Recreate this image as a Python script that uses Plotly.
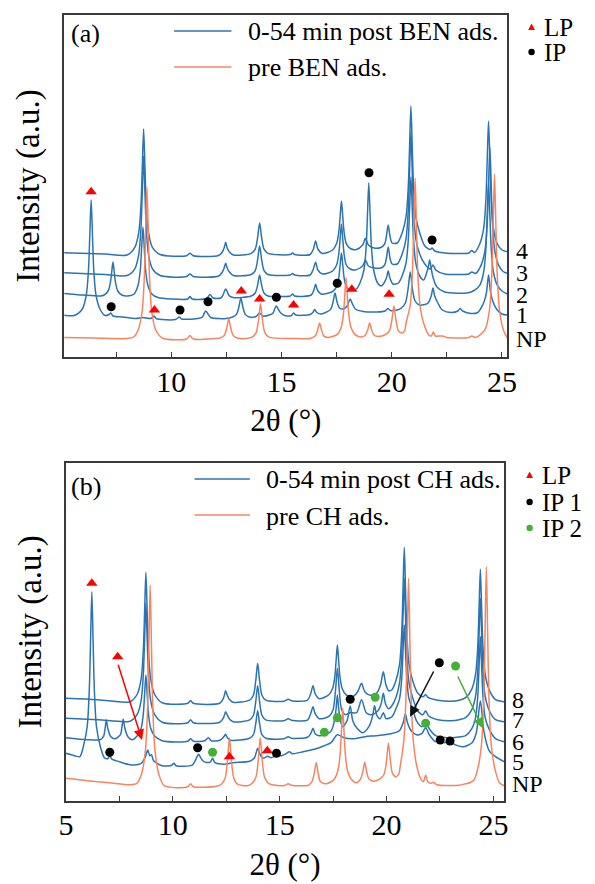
import plotly.graph_objects as go

W, H = 595, 884
SERIF = "Liberation Serif"
BLUE = "#2b74b3"
ORANGE = "#f8845f"
RED = "#ff0000"
GREEN = "#45b035"
FRAME = "#3a3a3a"

# ---------------- panel (a): benzene ----------------
a_np = [(5.10, 19.5), (6.50, 19.0), (8.00, 18.5), (8.30, 20.0), (8.50, 27), (8.68, 45), (8.78, 79), (8.84, 124),
        (8.90, 170), (8.96, 124), (9.02, 79), (9.12, 45), (9.30, 27), (9.60, 19), (10.70, 18), (10.85, 21.5),
        (11.00, 18), (12.00, 18.5), (12.23, 19), (12.41, 21.6), (12.52, 29), (12.61, 38), (12.70, 29),
        (12.81, 21.6), (12.99, 19), (13.40, 18.5), (13.67, 19.8), (13.85, 24.3), (13.96, 37), (14.05, 53),
        (14.14, 37), (14.25, 24.3), (14.43, 19.8), (15.50, 18.5), (16.35, 18.8), (16.53, 20.9), (16.64, 26.8),
        (16.73, 34), (16.82, 26.8), (16.93, 20.9), (17.10, 19.5), (17.53, 22.6), (17.71, 29.8), (17.81, 43),
        (17.87, 61), (17.93, 79), (17.99, 61), (18.05, 43), (18.15, 29.8), (18.33, 22.6), (18.60, 20),
        (18.80, 21.7), (18.91, 27), (19.00, 34), (19.09, 27), (19.20, 21.7), (19.40, 20.5), (19.72, 22.5),
        (19.90, 26.4), (20.01, 37.5), (20.10, 51), (20.19, 37.5), (20.30, 26.4), (20.45, 24), (20.58, 26),
        (20.66, 35), (20.84, 52), (20.94, 86), (21.00, 132), (21.06, 179), (21.12, 132), (21.18, 86),
        (21.28, 52), (21.46, 33), (21.68, 22), (21.80, 21), (21.89, 25), (21.98, 21), (22.30, 21),
        (22.50, 19.5), (23.50, 19.5), (23.63, 21), (23.80, 19.5), (24.10, 24), (24.26, 28.8), (24.44, 48.5),
        (24.54, 85), (24.60, 134), (24.66, 183), (24.72, 134), (24.78, 85), (24.88, 48.5), (25.06, 27),
        (25.24, 19)]

a_1 = [(5.10, 42), (5.60, 41.5), (5.97, 48), (6.15, 62), (6.25, 87), (6.31, 122), (6.37, 157), (6.43, 122),
       (6.49, 87), (6.59, 62), (6.77, 48), (7.00, 41.5), (7.18, 42.5), (7.26, 44), (7.36, 41), (7.80, 40),
       (8.40, 38.5), (8.70, 39.5), (9.00, 38.5), (9.14, 39), (9.22, 41), (9.32, 38.5), (10.20, 37.5),
       (10.37, 40), (10.47, 38), (11.20, 38.5), (11.42, 40), (11.50, 44), (11.57, 46), (11.64, 44),
       (11.80, 39.5), (12.50, 38.5), (12.78, 40), (12.96, 42.6), (13.07, 50), (13.16, 59), (13.25, 50),
       (13.36, 42.6), (13.54, 40), (13.85, 40.5), (14.00, 44), (14.15, 41), (14.45, 42), (14.62, 44),
       (14.70, 48.5), (14.77, 51), (14.85, 48), (14.97, 44), (15.15, 41.5), (15.45, 41.5), (15.55, 44),
       (15.65, 42), (16.30, 42.5), (16.42, 44.5), (16.51, 47.5), (16.60, 44.5), (16.80, 43), (17.05, 45),
       (17.23, 47.6), (17.34, 55), (17.43, 64), (17.52, 55), (17.63, 49), (17.80, 48), (17.98, 51),
       (18.05, 55), (18.12, 58), (18.20, 54), (18.35, 48), (18.70, 45.5), (19.30, 45), (19.70, 46),
       (19.82, 48.5), (19.95, 46.5), (20.25, 47), (20.44, 49), (20.62, 54), (20.74, 68), (20.84, 85),
       (20.94, 68), (21.06, 56), (21.25, 52), (21.50, 52.5), (21.65, 54), (21.79, 61), (21.87, 69),
       (21.95, 61), (22.09, 54), (22.30, 47), (22.70, 44.5), (23.00, 46), (23.10, 48.5), (23.22, 46),
       (23.60, 43.5), (23.90, 44.5), (24.05, 49), (24.20, 56), (24.30, 65), (24.39, 82), (24.48, 65),
       (24.58, 56), (24.75, 48), (25.00, 43), (25.24, 42)]

a_2 = [(5.10, 63.7), (6.00, 62), (6.80, 61), (6.96, 62), (7.14, 66), (7.24, 74), (7.30, 84.5), (7.36, 95),
       (7.42, 84.5), (7.48, 74), (7.58, 66), (7.76, 62), (8.00, 61), (8.32, 63), (8.50, 72), (8.60, 87),
       (8.66, 109), (8.72, 130), (8.78, 109), (8.84, 87), (8.94, 72), (9.12, 63), (9.40, 59.5), (10.00, 58),
       (10.75, 58), (10.85, 60.5), (10.95, 58), (11.60, 58.5), (11.76, 62.5), (11.90, 59), (12.25, 59),
       (12.35, 62), (12.42, 66), (12.47, 68), (12.53, 66), (12.62, 61.5), (12.80, 59.5),
       (13.63, 61), (13.81, 64), (13.92, 72), (14.01, 82), (14.10, 72), (14.21, 64), (14.39, 61),
       (15.00, 60.5), (15.40, 61), (15.50, 63), (15.60, 61), (16.35, 62), (16.47, 67), (16.55, 72.7),
       (16.63, 67), (16.80, 63), (17.32, 65.5), (17.50, 70.4), (17.60, 79.4), (17.66, 92), (17.72, 104),
       (17.78, 92), (17.84, 79.4), (17.94, 70.4), (18.10, 67), (18.40, 68), (18.56, 74), (18.74, 87),
       (18.84, 110), (18.90, 142), (18.96, 174), (19.02, 142), (19.08, 110), (19.18, 87), (19.36, 74),
       (19.52, 71), (19.62, 73), (19.76, 79), (19.84, 86), (19.92, 79), (20.06, 73), (20.30, 74),
       (20.47, 81), (20.65, 94), (20.75, 117), (20.81, 148.5), (20.87, 180), (20.93, 148.5), (20.99, 117),
       (21.09, 94), (21.27, 81), (21.45, 77), (21.58, 84), (21.66, 90), (21.72, 97), (21.78, 90),
       (21.87, 80), (22.05, 70), (22.40, 65), (22.80, 64), (23.40, 64), (23.70, 66), (23.99, 71.6),
       (24.17, 85), (24.27, 109), (24.33, 142), (24.39, 175), (24.45, 142), (24.51, 109), (24.61, 85),
       (24.79, 71.6), (25.00, 66), (25.24, 63)]

a_3 = [(5.10, 84.3), (7.00, 82.5), (8.00, 81.5), (8.35, 88.2), (8.53, 102.6), (8.63, 129), (8.69, 165),
       (8.75, 201), (8.81, 165), (8.87, 129), (8.97, 102.6), (9.15, 88.2), (9.50, 81.5), (10.70, 80.5),
       (10.85, 83), (11.00, 80.5), (12.15, 81), (12.32, 85), (12.40, 89), (12.47, 93.7), (12.54, 89),
       (12.64, 85), (12.82, 81.5), (13.63, 82.5), (13.81, 86.4), (13.92, 97.5), (14.01, 111), (14.10, 97.5),
       (14.21, 86.4), (14.39, 82.5), (15.20, 81.5), (15.40, 82), (15.50, 83.5), (15.60, 82), (16.30, 82),
       (16.43, 87), (16.55, 94.7), (16.65, 87), (16.85, 83), (17.32, 86), (17.50, 92), (17.60, 103),
       (17.66, 118), (17.72, 133), (17.78, 118), (17.84, 103), (17.94, 92), (18.12, 88), (18.35, 87),
       (18.68, 91), (18.81, 97), (18.94, 91), (19.20, 89), (19.50, 89), (19.68, 92), (19.76, 99),
       (19.84, 110), (19.92, 99), (20.02, 93), (20.25, 93), (20.47, 102.8), (20.65, 118.4), (20.75, 147),
       (20.81, 186), (20.87, 225), (20.93, 186), (20.99, 147), (21.09, 118.4), (21.27, 102.8), (21.50, 93),
       (21.75, 88), (21.87, 92), (22.00, 87), (22.40, 83), (23.00, 82.5), (23.50, 83), (23.63, 85),
       (23.80, 83.5), (24.05, 91.6), (24.23, 106.7), (24.33, 134), (24.39, 172), (24.45, 210),
       (24.51, 172), (24.57, 134), (24.67, 106.7), (24.85, 91.6), (25.05, 85.5), (25.24, 83.7)]

a_4 = [(5.10, 104.3), (7.00, 103), (8.00, 102), (8.35, 109.6), (8.53, 124.7), (8.63, 152), (8.69, 190),
       (8.75, 228), (8.81, 190), (8.87, 152), (8.97, 124.7), (9.15, 109.6), (9.50, 102.5), (10.70, 101.3),
       (10.85, 103.7), (11.00, 101.3), (12.15, 101.5), (12.32, 105), (12.40, 109), (12.47, 114.7),
       (12.54, 109), (12.64, 105), (12.82, 102), (13.63, 103.6), (13.81, 107.8), (13.92, 119.6),
       (14.01, 134), (14.10, 119.6), (14.21, 107.8), (14.39, 103.6), (15.40, 102.5), (15.50, 104),
       (15.60, 102.5), (16.30, 102.5), (16.45, 108), (16.55, 116), (16.65, 108), (16.85, 103.5),
       (17.32, 107), (17.50, 113.4), (17.60, 124.8), (17.66, 140.4), (17.72, 156), (17.78, 140.4),
       (17.84, 124.8), (17.94, 113.4), (18.12, 108.5), (18.40, 107.5), (18.68, 112), (18.81, 118.7),
       (18.94, 112), (19.20, 109), (19.50, 109.5), (19.68, 113), (19.76, 121), (19.84, 132), (19.92, 121),
       (20.02, 114), (20.25, 114), (20.47, 124), (20.65, 140.3), (20.75, 170), (20.81, 210.5), (20.87, 251),
       (20.93, 210.5), (20.99, 170), (21.09, 140.3), (21.27, 124), (21.50, 111), (21.75, 107.5),
       (21.83, 109), (21.95, 106), (22.40, 104), (23.00, 103.5), (23.50, 104), (23.63, 106.5),
       (23.75, 104.5), (23.99, 113), (24.17, 128.6), (24.27, 157.4), (24.33, 197), (24.39, 236),
       (24.45, 197), (24.51, 157.4), (24.61, 128.6), (24.79, 113), (25.00, 107), (25.24, 105.3)]

a_lp_x = [6.37, 9.24, 13.18, 14.01, 15.55, 18.19, 19.88]
a_lp_y = [165.3, 47, 66, 58, 52, 67.7, 62.7]
a_ip_x = [7.28, 10.40, 11.67, 14.77, 17.53, 18.97, 21.83]
a_ip_y = [50.3, 47, 55.3, 59.7, 73.7, 184.3, 117]

# ---------------- panel (b): cyclohexane ----------------
b_np = [(5.00, 22.5), (6.00, 20), (7.00, 18), (8.00, 16), (8.30, 17), (8.54, 27), (8.72, 51), (8.82, 95),
        (8.88, 156), (8.94, 215.7), (9.00, 156), (9.06, 95), (9.16, 51), (9.34, 27), (9.60, 15),
        (10.70, 14), (10.83, 17), (10.96, 14), (12.05, 14.5), (12.27, 16.5), (12.45, 22.8), (12.56, 41),
        (12.65, 63), (12.74, 41), (12.85, 22.8), (13.03, 16.5), (13.50, 15), (13.71, 17.4), (13.89, 23.6),
        (14.00, 41.4), (14.09, 63), (14.18, 41.4), (14.29, 23.6), (14.47, 17.4), (15.20, 15), (15.40, 17),
        (15.55, 15.5), (16.35, 15.5), (16.51, 19), (16.62, 27.7), (16.71, 38), (16.80, 27.7), (16.91, 19),
        (17.20, 17), (17.55, 21.5), (17.73, 30.5), (17.83, 47), (17.89, 69.5), (17.95, 92.4), (18.01, 69.5),
        (18.07, 47), (18.17, 30.5), (18.35, 21.5), (18.60, 18), (18.78, 21.6), (18.89, 29), (18.98, 38.4),
        (19.07, 29), (19.18, 21.6), (19.40, 19.5), (19.71, 22), (19.89, 26.7), (20.00, 40), (20.09, 57.4),
        (20.18, 40), (20.29, 26.7), (20.45, 24), (20.58, 27), (20.63, 33), (20.81, 60.5), (20.91, 104),
        (20.97, 163), (21.03, 222.4), (21.09, 163), (21.15, 104), (21.25, 60.5), (21.43, 33), (21.62, 21),
        (21.73, 19), (21.83, 25.7), (21.93, 19), (22.10, 17.5), (22.20, 18.5), (22.35, 16), (23.40, 15.5),
        (23.70, 17), (23.90, 18), (24.10, 21), (24.27, 32), (24.45, 57.7), (24.55, 105), (24.61, 169),
        (24.67, 234), (24.73, 169), (24.79, 105), (24.89, 57.7), (25.07, 32), (25.28, 18), (25.50, 15)]

b_5 = [(5.00, 47.4), (5.40, 45), (5.65, 44), (5.81, 54), (5.99, 73.7), (6.09, 110), (6.15, 159.5),
       (6.21, 209), (6.27, 159.5), (6.33, 110), (6.43, 73.7), (6.61, 54), (6.80, 43), (6.95, 42),
       (7.05, 45), (7.15, 41.5), (7.50, 39), (8.00, 36), (8.50, 37), (8.70, 43), (8.83, 50.7), (8.92, 45),
       (9.00, 46), (9.10, 40), (9.50, 35), (9.95, 35.5), (10.05, 37.5), (10.15, 35), (10.90, 35.5),
       (11.05, 40), (11.13, 44), (11.21, 46.4), (11.30, 43), (11.45, 39), (11.75, 38.5), (11.86, 42.4),
       (11.97, 38), (12.40, 36.5), (12.80, 38), (13.60, 39.5), (13.82, 43), (13.90, 48), (13.97, 52.4),
       (14.05, 48), (14.18, 43), (14.30, 43), (14.42, 44.5), (14.60, 43), (14.85, 45), (15.10, 45),
       (15.30, 47), (15.45, 49), (15.60, 47), (16.10, 49), (16.70, 52), (17.09, 55), (17.40, 58),
       (17.70, 66), (18.00, 63), (18.50, 62), (19.00, 64), (19.50, 65), (20.20, 67), (20.60, 70),
       (20.78, 78), (20.88, 87), (20.98, 78), (21.15, 70), (21.40, 66), (21.65, 67), (21.83, 73),
       (22.00, 66), (22.30, 59), (22.51, 62), (22.70, 58), (22.97, 60), (23.20, 56), (23.60, 54),
       (24.00, 58), (24.20, 68), (24.39, 100), (24.55, 70), (24.80, 50), (25.10, 44), (25.50, 39)]

b_6 = [(5.00, 63), (6.00, 61), (6.60, 61), (6.75, 64), (6.83, 72), (6.89, 80.7), (6.96, 72), (7.10, 64),
       (7.30, 62), (7.55, 66), (7.62, 74), (7.68, 81.4), (7.75, 73), (7.90, 64), (8.10, 61), (8.34, 65),
       (8.52, 72.7), (8.62, 87), (8.68, 106.5), (8.74, 125.7), (8.80, 106.5), (8.86, 87), (8.96, 72.7),
       (9.14, 65), (9.50, 60), (10.70, 59.5), (10.83, 62), (10.96, 59.5), (11.50, 60), (11.66, 63),
       (11.80, 60), (12.20, 60.5), (12.35, 63), (12.42, 65), (12.47, 66.4), (12.55, 63), (12.70, 60.5),
       (13.59, 62.5), (13.77, 66), (13.88, 77), (13.97, 90), (14.06, 77), (14.17, 66), (14.35, 62.5),
       (15.20, 62), (15.40, 64), (15.55, 62.5), (16.30, 63.5), (16.45, 67), (16.56, 72.4), (16.66, 67),
       (16.85, 65), (17.25, 67), (17.42, 70), (17.56, 80), (17.64, 92), (17.70, 105.7), (17.76, 92),
       (17.84, 80), (17.95, 74), (18.15, 80), (18.30, 94.7), (18.42, 80), (18.60, 73), (18.90, 68),
       (19.20, 75), (19.35, 85), (19.44, 95), (19.55, 85), (19.70, 82), (19.85, 88), (19.98, 82),
       (20.25, 84), (20.43, 91.4), (20.61, 102), (20.71, 122), (20.77, 149), (20.83, 175.7), (20.89, 149),
       (20.95, 122), (21.05, 102), (21.23, 91.4), (21.40, 80), (21.65, 74), (21.83, 79), (22.00, 72),
       (22.30, 65), (22.80, 63), (23.30, 63.5), (23.70, 65), (23.99, 72), (24.17, 83.6), (24.27, 105),
       (24.33, 134.6), (24.39, 164), (24.45, 134.6), (24.51, 105), (24.61, 83.6), (24.79, 72), (25.10, 62),
       (25.50, 59)]

b_7 = [(5.00, 82.4), (6.50, 81), (8.00, 79.5), (8.34, 86.5), (8.52, 100.5), (8.62, 126.5), (8.68, 162),
       (8.74, 197.4), (8.80, 162), (8.86, 126.5), (8.96, 100.5), (9.14, 86.5), (9.50, 78.5), (10.70, 78),
       (10.83, 81), (10.96, 78), (12.20, 78.5), (12.35, 82), (12.42, 86), (12.47, 89), (12.54, 86),
       (12.64, 82), (12.82, 79), (13.59, 80.8), (13.77, 85.5), (13.88, 99), (13.97, 115), (14.06, 99),
       (14.17, 85.5), (14.35, 80.8), (15.20, 80), (15.40, 82), (15.55, 80.5), (16.30, 80.5), (16.45, 87),
       (16.56, 94), (16.66, 87), (16.85, 82), (17.32, 84.5), (17.50, 91), (17.61, 109.7), (17.70, 132.4),
       (17.79, 109.7), (17.90, 91), (18.08, 86), (18.30, 88), (18.60, 88), (18.83, 101), (19.05, 88),
       (19.30, 86), (19.60, 90), (19.75, 97), (19.85, 107.4), (19.95, 97), (20.10, 92), (20.25, 95),
       (20.43, 102.6), (20.61, 118), (20.71, 146), (20.77, 184), (20.83, 222.4), (20.89, 184), (20.95, 146),
       (21.05, 118), (21.23, 102.6), (21.45, 90), (21.70, 86), (21.83, 90), (21.96, 85), (22.40, 81),
       (23.00, 80), (23.40, 81), (23.70, 83), (23.99, 91), (24.17, 105), (24.27, 131), (24.33, 166.6),
       (24.39, 202.4), (24.45, 166.6), (24.51, 131), (24.61, 105), (24.79, 91), (25.10, 81), (25.50, 79)]

b_8 = [(5.00, 102.4), (6.50, 101), (8.00, 99), (8.34, 106.7), (8.52, 122), (8.62, 150.6), (8.68, 189),
       (8.74, 228.4), (8.80, 189), (8.86, 150.6), (8.96, 122), (9.14, 106.7), (9.50, 98), (10.70, 97.4),
       (10.83, 100), (10.96, 97.4), (12.20, 97.5), (12.35, 101.5), (12.42, 106), (12.47, 110), (12.54, 106),
       (12.64, 101.5), (12.82, 98.5), (13.59, 100.5), (13.77, 105.5), (13.88, 120), (13.97, 137.4),
       (14.06, 120), (14.17, 105.5), (14.35, 100.5), (15.20, 99.5), (15.40, 101.5), (15.55, 100),
       (16.30, 100.5), (16.45, 107), (16.56, 115), (16.66, 107), (16.85, 102), (17.30, 106), (17.48, 112.5),
       (17.58, 124), (17.64, 140), (17.70, 155.7), (17.76, 140), (17.82, 124), (17.92, 112.5), (18.10, 106),
       (18.40, 104), (18.65, 109), (18.83, 117.4), (18.98, 109), (19.25, 105.5), (19.55, 108), (19.72, 116),
       (19.85, 129), (19.97, 116), (20.10, 110), (20.25, 111), (20.43, 119.5), (20.61, 136.6), (20.71, 168),
       (20.77, 210.4), (20.83, 253.4), (20.89, 210.4), (20.95, 168), (21.05, 136.6), (21.23, 119.5),
       (21.45, 108), (21.70, 104), (21.83, 106), (21.96, 103), (22.40, 100.5), (23.00, 99.5), (23.40, 100.5),
       (23.70, 103), (23.99, 111.6), (24.17, 127), (24.27, 155), (24.33, 193), (24.39, 231.4), (24.45, 193),
       (24.51, 155), (24.61, 127), (24.79, 111.6), (25.10, 101), (25.50, 99)]

b_lp_x = [6.21, 7.42, 12.65, 14.42]
b_lp_y = [217.4, 144, 44, 50]
b_ip1_x = [7.05, 11.16, 14.85, 18.30, 22.47, 22.51, 22.97]
b_ip1_y = [48.4, 53, 47.4, 101.4, 138, 60.7, 59.7]
b_ip2_x = [11.86, 17.09, 17.70, 19.47, 21.83, 23.23]
b_ip2_y = [48.4, 68.4, 83, 103.4, 77.4, 134.7]

# peak-shift arrows in panel (b): (tail x, tail y, head x, head y, colour)
b_arrows = [(7.42, 137.4, 8.56, 60.7, RED),
            (22.24, 130.7, 21.10, 84.0, "#111111"),
            (23.30, 125.7, 24.51, 72.4, GREEN)]

a_labels = [("4", 106), ("3", 84), ("2", 62), ("1", 42.5), ("NP", 18)]
b_labels = [("8", 100.7), ("7", 80.7), ("6", 58.7), ("5", 38.7), ("NP", 16.7)]


def px(x):
    return x / W


def py(y):
    return 1 - y / H


fig = go.Figure()


def add_curves(series, xa, ya):
    for pts, color in series:
        fig.add_trace(go.Scatter(x=[p[0] for p in pts], y=[p[1] for p in pts], mode="lines",
                                 line=dict(color=color, width=1.5, shape="spline", smoothing=0.8),
                                 xaxis=xa, yaxis=ya, showlegend=False, hoverinfo="skip"))


def add_markers(xs, ys, symbol, color, size, xa, ya):
    fig.add_trace(go.Scatter(x=xs, y=ys, mode="markers",
                             marker=dict(symbol=symbol, color=color, size=size, line=dict(width=0)),
                             xaxis=xa, yaxis=ya, showlegend=False, hoverinfo="skip"))


add_curves([(a_1, BLUE), (a_2, BLUE), (a_3, BLUE), (a_4, BLUE), (a_np, ORANGE)], "x", "y")
add_markers(a_lp_x, a_lp_y, "triangle-up", RED, 10, "x", "y")
add_markers(a_ip_x, a_ip_y, "circle", "black", 9, "x", "y")

add_curves([(b_5, BLUE), (b_6, BLUE), (b_7, BLUE), (b_8, BLUE), (b_np, ORANGE)], "x2", "y2")
add_markers(b_lp_x, b_lp_y, "triangle-up", RED, 10, "x2", "y2")
add_markers(b_ip1_x, b_ip1_y, "circle", "black", 9, "x2", "y2")
add_markers(b_ip2_x, b_ip2_y, "circle", GREEN, 9, "x2", "y2")

annotations = []
shapes = []

for tx, ty, hx, hy, col in b_arrows:
    annotations.append(dict(x=hx, y=hy, ax=tx, ay=ty, xref="x2", yref="y2", axref="x2", ayref="y2",
                            text="", showarrow=True, arrowhead=2, arrowsize=1.4, arrowwidth=1.5,
                            arrowcolor=col))

label_font = dict(family=SERIF, size=24, color="black")
for txt, yv in a_labels:
    annotations.append(dict(x=px(522), y=yv, xref="paper", yref="y", text=txt, showarrow=False,
                            xanchor="left", yanchor="middle", font=label_font))
for txt, yv in b_labels:
    annotations.append(dict(x=px(518), y=yv, xref="paper", yref="y2", text=txt, showarrow=False,
                            xanchor="left", yanchor="middle", font=label_font))

tag_font = dict(family=SERIF, size=26, color="black")
annotations.append(dict(x=px(64), y=py(34), xref="paper", yref="paper", text="(a)", showarrow=False,
                        xanchor="left", yanchor="middle", font=tag_font))
annotations.append(dict(x=px(64), y=py(486), xref="paper", yref="paper", text="(b)", showarrow=False,
                        xanchor="left", yanchor="middle", font=tag_font))

# line legends inside each panel
line_legends = [
    (172, 231, 31, 246, "0-54 min post BEN ads.", BLUE),
    (172, 231, 67, 246, "pre BEN ads.", ORANGE),
    (193, 250, 479, 265, "0-54 min post CH ads.", BLUE),
    (193, 250, 515, 265, "pre CH ads.", ORANGE),
]
for x0, x1, yy, xt, txt, col in line_legends:
    shapes.append(dict(type="line", xref="paper", yref="paper", x0=px(x0), x1=px(x1), y0=py(yy), y1=py(yy),
                       line=dict(color=col, width=1.5)))
    annotations.append(dict(x=px(xt), y=py(yy + 1), xref="paper", yref="paper", text=txt, showarrow=False,
                            xanchor="left", yanchor="middle", font=tag_font))

# marker legends outside each panel
marker_legends = [
    (540, 27, "tri", RED, "LP"),
    (540, 52, "dot", "black", "IP"),
    (538, 475, "tri", RED, "LP"),
    (538, 502, "dot", "black", "IP 1"),
    (538, 528, "dot", GREEN, "IP 2"),
]
for cx, cy, kind, col, txt in marker_legends:
    if kind == "tri":
        path = "M {:.5f},{:.5f} L {:.5f},{:.5f} L {:.5f},{:.5f} Z".format(
            px(cx - 3.5), py(cy + 3), px(cx + 3.5), py(cy + 3), px(cx), py(cy - 3.5))
        shapes.append(dict(type="path", xref="paper", yref="paper", path=path, fillcolor=col,
                           line=dict(width=0)))
    else:
        shapes.append(dict(type="circle", xref="paper", yref="paper", x0=px(cx - 3.3), x1=px(cx + 3.3),
                           y0=py(cy + 3.3), y1=py(cy - 3.3), fillcolor=col, line=dict(width=0)))
    annotations.append(dict(x=px(cx + 11), y=py(cy), xref="paper", yref="paper", text=txt, showarrow=False,
                            xanchor="left", yanchor="middle", font=dict(family=SERIF, size=25, color="black")))

tick_font = dict(family=SERIF, size=30, color="black")
xtitle_font = dict(family=SERIF, size=31, color="black")
ytitle_font = dict(family=SERIF, size=33, color="black")


def xaxis_cfg(domain, rng, vals, anchor):
    return dict(domain=domain, range=rng, anchor=anchor, showgrid=False, zeroline=False,
                showline=True, mirror=True, linecolor=FRAME, linewidth=1.5,
                tickmode="array", tickvals=vals,
                ticktext=[("%g" % v) if v % 5 == 0 else "" for v in vals],
                ticks="inside", ticklen=5, tickwidth=1.2, tickcolor=FRAME, tickfont=tick_font,
                ticklabelstandoff=-3,
                title=dict(text="2θ (°)", font=xtitle_font, standoff=13))


def yaxis_cfg(domain, rng, anchor):
    return dict(domain=domain, range=rng, anchor=anchor, showgrid=False, zeroline=False,
                showline=True, mirror=True, linecolor=FRAME, linewidth=1.5,
                showticklabels=False, ticks="",
                title=dict(text="Intensity (a.u.)", font=ytitle_font, standoff=13))


fig.update_layout(
    width=W, height=H, autosize=False,
    margin=dict(l=0, r=0, t=0, b=0),
    paper_bgcolor="white", plot_bgcolor="white",
    font=dict(family=SERIF, color="black"),
    xaxis=xaxis_cfg([px(59), px(515)], [5.154, 25.24], [7.5, 10, 12.5, 15, 17.5, 20, 22.5, 25], "y"),
    yaxis=yaxis_cfg([py(357), py(15)], [0, 342], "x"),
    xaxis2=xaxis_cfg([px(60.7), px(511.7)], [5.0, 25.5], [5, 7.5, 10, 12.5, 15, 17.5, 20, 22.5, 25], "y2"),
    yaxis2=yaxis_cfg([py(800.7), py(463)], [0, 337.7], "x2"),
    annotations=annotations,
    shapes=shapes,
    showlegend=False,
)

fig.write_html("out.html")
